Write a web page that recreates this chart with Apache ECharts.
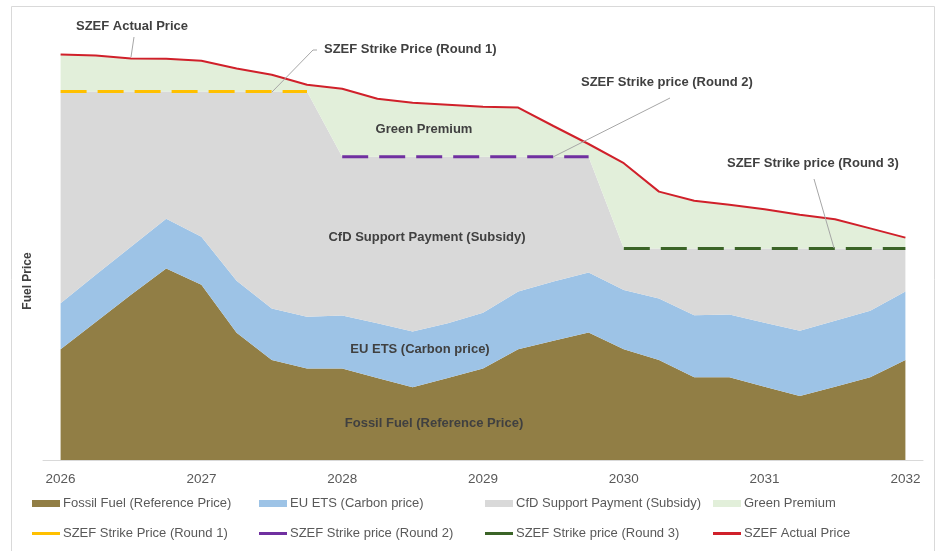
<!DOCTYPE html>
<html>
<head>
<meta charset="utf-8">
<title>SZEF pricing</title>
<script src="https://cdn.jsdelivr.net/npm/echarts@6/dist/echarts.min.js"></script>
<style>
  html, body { margin: 0; padding: 0; background: #fff; }
  #chart { width: 938px; height: 551px; }
</style>
</head>
<body>
<div id="chart"></div>
<script>
// quarters, 2026 Q1 .. 2032 Q1
const quarters = [
  "2026 Q1", "2026 Q2", "2026 Q3", "2026 Q4",
  "2027 Q1", "2027 Q2", "2027 Q3", "2027 Q4",
  "2028 Q1", "2028 Q2", "2028 Q3", "2028 Q4",
  "2029 Q1", "2029 Q2", "2029 Q3", "2029 Q4",
  "2030 Q1", "2030 Q2", "2030 Q3", "2030 Q4",
  "2031 Q1", "2031 Q2", "2031 Q3", "2031 Q4",
  "2032 Q1",
];

// fossil fuel reference price
const fossilFuel = [
  27.7, 34.5, 41.3, 47.9, 43.8, 31.8, 25.0, 22.9,
  22.9, 20.5, 18.2, 20.5, 22.9, 27.7, 29.8, 31.9,
  27.7, 25.0, 20.7, 20.7, 18.3, 16.0, 18.3, 20.7,
  25.0,
];
// EU ETS carbon price on top of fossil fuel
const euEts = [
  11.5, 11.8, 12.0, 12.4, 12.0, 13.0, 12.9, 12.9,
  13.2, 13.7, 13.9, 13.7, 13.9, 14.4, 14.8, 15.0,
  14.8, 15.4, 15.5, 15.7, 16.0, 16.3, 16.5, 16.6,
  17.1,
];
// strike prices per round (null = not in force)
const strikeRound1 = [
  92.1, 92.1, 92.1, 92.1, 92.1, 92.1, 92.1, 92.1,
  null, null, null, null, null, null, null, null,
  null, null, null, null, null, null, null, null,
  null,
];
const strikeRound2 = [
  null, null, null, null, null, null, null, null,
  75.8, 75.8, 75.8, 75.8, 75.8, 75.8, 75.8, 75.8,
  null, null, null, null, null, null, null, null,
  null,
];
const strikeRound3 = [
  null, null, null, null, null, null, null, null,
  null, null, null, null, null, null, null, null,
  52.9, 52.9, 52.9, 52.9, 52.9, 52.9, 52.9, 52.9,
  52.9,
];
// actual SZEF price
const actualPrice = [
  101.4, 101.1, 100.4, 100.3, 99.8, 97.9, 96.3, 93.8,
  92.8, 90.3, 89.3, 88.8, 88.3, 88.1, 83.5, 79.0,
  74.2, 67.1, 64.8, 63.8, 62.7, 61.3, 60.2, 57.9,
  55.6,
];

// stacked pieces built from the arrays above
const strike = quarters.map((q, i) => strikeRound1[i] ?? strikeRound2[i] ?? strikeRound3[i]);
const cfdSupport = strike.map((s, i) => +(s - fossilFuel[i] - euEts[i]).toFixed(2));
const greenPremium = actualPrice.map((a, i) => +(a - strike[i]).toFixed(2));

const FONT = "'Liberation Sans', Arial, sans-serif";
const labelColor = "#404040";

function areaSeries(name, data, color) {
  return {
    name: name,
    type: "line",
    stack: "price",
    data: data,
    showSymbol: false,
    symbol: "none",
    lineStyle: { width: 0 },
    itemStyle: { color: color },
    areaStyle: { color: color, opacity: 1 },
    z: 1,
  };
}

function strikeSeries(name, data, color) {
  return {
    name: name,
    type: "line",
    data: data,
    showSymbol: false,
    symbol: "none",
    itemStyle: { color: color },
    lineStyle: { color: color, width: 3, type: [26, 11] },
    z: 3,
  };
}

const legendNames = [
  "Fossil Fuel (Reference Price)", "EU ETS (Carbon price)",
  "CfD Support Payment (Subsidy)", "Green Premium",
  "SZEF Strike Price (Round 1)", "SZEF Strike price (Round 2)",
  "SZEF Strike price (Round 3)", "SZEF Actual Price",
];
const legendLeft = [32, 259, 485, 713];

const myChart = echarts.init(document.getElementById("chart"));

myChart.setOption({
  animation: false,
  textStyle: { fontFamily: FONT },
  grid: { left: 43, right: 15, top: 20, bottom: 91 },
  xAxis: {
    type: "category",
    data: quarters,
    boundaryGap: true,
    axisLine: { lineStyle: { color: "#d9d9d9", width: 1 } },
    axisTick: { interval: 0, length: 5, lineStyle: { color: "#d9d9d9" } },
    axisLabel: {
      interval: 3,
      margin: 12,
      color: "#595959",
      fontSize: 13.5,
      fontFamily: FONT,
      formatter: (v) => v.slice(0, 4),
    },
    splitLine: { show: false },
  },
  yAxis: {
    type: "value",
    min: 0,
    max: 110,
    show: false,
    splitLine: { show: false },
  },
  legend: legendNames.map((name, k) => ({
    data: [{ name: name, icon: "rect" }],
    selectedMode: false,
    left: legendLeft[k % 4],
    top: k < 4 ? 497 : 527,
    itemWidth: 28,
    itemHeight: k < 4 ? 7 : 3,
    padding: 0,
    textStyle: { color: "#595959", fontSize: 13, fontFamily: FONT, padding: [0, 0, 0, -2] },
  })),
  series: [
    areaSeries("Fossil Fuel (Reference Price)", fossilFuel, "#917e45"),
    areaSeries("EU ETS (Carbon price)", euEts, "#9dc3e6"),
    areaSeries("CfD Support Payment (Subsidy)", cfdSupport, "#d9d9d9"),
    areaSeries("Green Premium", greenPremium, "#e2efda"),
    strikeSeries("SZEF Strike Price (Round 1)", strikeRound1, "#ffc000"),
    strikeSeries("SZEF Strike price (Round 2)", strikeRound2, "#7030a0"),
    strikeSeries("SZEF Strike price (Round 3)", strikeRound3, "#3b6427"),
    {
      name: "SZEF Actual Price",
      type: "line",
      data: actualPrice,
      showSymbol: false,
      symbol: "none",
      itemStyle: { color: "#d0202a" },
      lineStyle: { color: "#d0202a", width: 2 },
      z: 4,
    },
  ],
  graphic: [
    // outer frame
    {
      type: "rect",
      shape: { x: 11.5, y: 6.5, width: 923, height: 560 },
      style: { fill: "none", stroke: "#d9d9d9", lineWidth: 1 },
      silent: true,
    },
    // axis title
    {
      type: "text",
      x: 28,
      y: 281,
      rotation: Math.PI / 2,
      style: {
        text: "Fuel Price",
        font: "bold 12px " + FONT,
        fill: labelColor,
        textAlign: "center",
        textVerticalAlign: "middle",
      },
    },
    // callouts
    { type: "polyline", shape: { points: [[134, 37], [131, 57]] }, style: { stroke: "#a6a6a6", lineWidth: 1, fill: null }, z: 10 },
    { type: "polyline", shape: { points: [[317, 50], [313, 50], [272, 92]] }, style: { stroke: "#a6a6a6", lineWidth: 1, fill: null }, z: 10 },
    { type: "polyline", shape: { points: [[670, 98], [553, 157]] }, style: { stroke: "#a6a6a6", lineWidth: 1, fill: null }, z: 10 },
    { type: "polyline", shape: { points: [[814, 179], [834, 248]] }, style: { stroke: "#a6a6a6", lineWidth: 1, fill: null }, z: 10 },
    { type: "text", x: 76, y: 26, z: 10, style: { text: "SZEF Actual Price", font: "bold 13px " + FONT, fill: labelColor, textAlign: "left", textVerticalAlign: "middle" } },
    { type: "text", x: 324, y: 49, z: 10, style: { text: "SZEF Strike Price (Round 1)", font: "bold 13px " + FONT, fill: labelColor, textAlign: "left", textVerticalAlign: "middle" } },
    { type: "text", x: 581, y: 82, z: 10, style: { text: "SZEF Strike price (Round 2)", font: "bold 13px " + FONT, fill: labelColor, textAlign: "left", textVerticalAlign: "middle" } },
    { type: "text", x: 727, y: 163, z: 10, style: { text: "SZEF Strike price (Round 3)", font: "bold 13px " + FONT, fill: labelColor, textAlign: "left", textVerticalAlign: "middle" } },
    // area labels
    { type: "text", x: 424, y: 129, z: 10, style: { text: "Green Premium", font: "bold 13px " + FONT, fill: labelColor, textAlign: "center", textVerticalAlign: "middle" } },
    { type: "text", x: 427, y: 237, z: 10, style: { text: "CfD Support Payment (Subsidy)", font: "bold 13px " + FONT, fill: labelColor, textAlign: "center", textVerticalAlign: "middle" } },
    { type: "text", x: 420, y: 349, z: 10, style: { text: "EU ETS (Carbon price)", font: "bold 13px " + FONT, fill: labelColor, textAlign: "center", textVerticalAlign: "middle" } },
    { type: "text", x: 434, y: 423, z: 10, style: { text: "Fossil Fuel (Reference Price)", font: "bold 13px " + FONT, fill: labelColor, textAlign: "center", textVerticalAlign: "middle" } },
  ],
});

window.onresize = myChart.resize;
</script>
</body>
</html>
